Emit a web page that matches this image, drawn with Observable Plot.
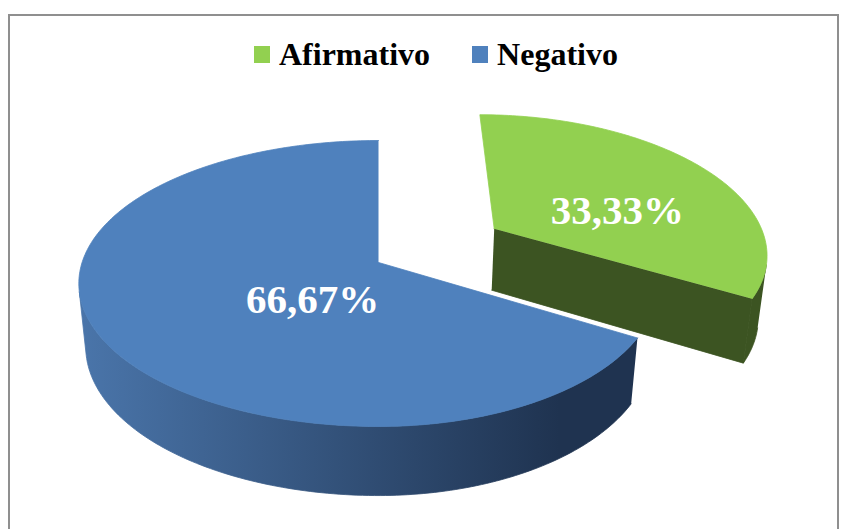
<!DOCTYPE html>
<html>
<head>
<meta charset="utf-8">
<script src="https://cdn.jsdelivr.net/npm/d3@7"></script>
<script src="https://cdn.jsdelivr.net/npm/@observablehq/plot@0.6"></script>
<style>
  html, body { margin: 0; padding: 0; background: #fff; overflow: hidden; }
  #wrap { position: relative; width: 841px; height: 529px; overflow: hidden; }
  #legend { position: relative; width: 841px; height: 85px;
    font-family: "Liberation Serif", "Times New Roman", serif; font-weight: bold; font-size: 32px; color: #000; }
  #legend .row { position: absolute; left: 254px; top: 38px; display: flex; align-items: center; line-height: 32px; white-space: nowrap; }
  #legend .item { display: flex; align-items: center; }
  #legend .sw { width: 16px; height: 17px; margin-right: 9px; }
  #frame { position: absolute; left: 8px; top: 14px; width: 831px; height: 700px;
    border: 2px solid #8f8f8f; box-sizing: border-box; pointer-events: none; }
</style>
</head>
<body>
<div id="wrap">
  <div id="legend"><div class="row"></div></div>
  <div id="chart"></div>
  <div id="frame"></div>
</div>
<script>
// ---- data ----
const categories = ["Afirmativo", "Negativo"];
const values = [33.33, 66.67];
const topColors = ["#92d050", "#4f81bd"];
const sideColors = ["#3c5422", "#1f3350"];
const exploded = ["Afirmativo"];
const labels = values.map(v => d3.format(".2f")(v).replace(".", ",") + "%");

// ---- view (3D pie projection) ----
const W = 841, H_SVG = 444, OFF = 85;
const SINP = 0.505, COSP = Math.sqrt(1 - SINP * SINP);
const DIST = 5.88, FOC = 1629, CX = 378, CY = 262, DEPTH = 0.269, LEFTK = 1.07, EXPL = 0.5;
const CAM = [0, -DIST * COSP, DIST * SINP];

function proj(x, y, z) {
  const zc = y * COSP - z * SINP + DIST;
  let X = FOC * x / zc;
  if (X < 0) X *= LEFTK;
  return {x: CX + X, y: CY - FOC * (y * SINP + z * COSP) / zc};
}

const TAU = 2 * Math.PI, total = d3.sum(values);
let acc = 0;
const slices = categories.map((name, i) => {
  const a0 = acc / total * TAU; acc += values[i]; const a1 = acc / total * TAU;
  const mid = (a0 + a1) / 2, e = exploded.includes(name) ? EXPL : 0;
  return {name, i, a0, a1, mid, ox: e * Math.sin(mid), oy: e * Math.cos(mid)};
});

function arcPts(s, z, from, to) {
  const n = Math.max(2, Math.ceil(Math.abs(to - from) / TAU * 360));
  return d3.range(n + 1).map(k => {
    const t = from + (to - from) * k / n;
    return proj(s.ox + Math.sin(t), s.oy + Math.cos(t), z);
  });
}
// visible (front-facing) part of the curved outer wall
function wallRange(s) {
  const n = 720, vis = [];
  for (let k = 0; k <= n; k++) {
    const t = s.a0 + (s.a1 - s.a0) * k / n;
    const px = s.ox + Math.sin(t), py = s.oy + Math.cos(t);
    const dot = Math.sin(t) * (CAM[0] - px) + Math.cos(t) * (CAM[1] - py);
    if (dot > 0) vis.push(t);
  }
  return vis.length ? [d3.min(vis), d3.max(vis)] : null;
}
function facesOf(s) {
  const c0 = proj(s.ox, s.oy, 0), c1 = proj(s.ox, s.oy, -DEPTH);
  const radial = a => [c0,
    proj(s.ox + Math.sin(a), s.oy + Math.cos(a), 0),
    proj(s.ox + Math.sin(a), s.oy + Math.cos(a), -DEPTH), c1];
  const n0y = Math.sin(s.a0);
  const n1y = -Math.sin(s.a1);
  const faces = [];
  if (-n0y > 1e-6) faces.push({kind: "radial0", pts: radial(s.a0)});
  if (-n1y > 1e-6) faces.push({kind: "radial1", pts: radial(s.a1)});
  const wr = wallRange(s);
  if (wr) faces.push({kind: "wall", pts: [...arcPts(s, 0, wr[0], wr[1]), ...arcPts(s, -DEPTH, wr[1], wr[0])]});
  faces.push({kind: "top", pts: [c0, ...arcPts(s, 0, s.a0, s.a1)]});
  return faces;
}

const WALL_MARK = "#1f3351"; // placeholder colour, replaced by a gradient below
const marks = [];
for (const s of slices) {
  for (const f of facesOf(s)) {
    let col = f.kind === "top" ? topColors[s.i] : sideColors[s.i];
    if (f.kind === "wall" && s.name === "Negativo") col = WALL_MARK;
    marks.push(Plot.line(f.pts, {x: "x", y: "y", fill: col, stroke: col, strokeWidth: 0.8,
      strokeLinejoin: "round"}));
  }
}

const labelData = slices.map(s => {
  const half = (s.a1 - s.a0) / 2;
  const r = 2 / 3 * Math.sin(half) / half;
  const p = proj(s.ox + r * Math.sin(s.mid), s.oy + r * Math.cos(s.mid), -0.27 * DEPTH);
  return {x: p.x, y: p.y, label: labels[s.i]};
});

const svg = Plot.plot({
  width: W, height: H_SVG, margin: 0,
  x: {domain: [0, W], range: [0, W], axis: null},
  y: {domain: [OFF, OFF + H_SVG], range: [0, H_SVG], axis: null},
  style: {background: "white"},
  marks: [
    ...marks,
    Plot.text(labelData, {x: "x", y: "y", text: "label", fill: "white", fontSize: 41, dx: 6,
      fontWeight: "bold", fontFamily: "'Liberation Serif', 'Times New Roman', serif"})
  ]
});

// gradient for the side wall of the large slice
const neg = slices.find(s => s.name === "Negativo");
const wallPts = facesOf(neg).find(f => f.kind === "wall").pts;
const gx1 = d3.min(wallPts, p => p.x), gx2 = d3.max(wallPts, p => p.x);
const ns = "http://www.w3.org/2000/svg";
const defs = document.createElementNS(ns, "defs");
const lg = document.createElementNS(ns, "linearGradient");
lg.setAttribute("id", "negSide");
lg.setAttribute("gradientUnits", "userSpaceOnUse");
lg.setAttribute("x1", gx1); lg.setAttribute("x2", gx2);
lg.setAttribute("y1", 0); lg.setAttribute("y2", 0);
[[0, "#4a75aa"], [0.86, "#1f3350"], [1, "#1f3350"]].forEach(([o, c]) => {
  const st = document.createElementNS(ns, "stop");
  st.setAttribute("offset", o); st.setAttribute("stop-color", c);
  lg.appendChild(st);
});
defs.appendChild(lg);
svg.insertBefore(defs, svg.firstChild);
svg.querySelectorAll("g").forEach(g => {
  if (g.getAttribute("fill") === WALL_MARK) {
    g.setAttribute("fill", "url(#negSide)");
    g.setAttribute("stroke", "url(#negSide)");
  }
});
document.getElementById("chart").appendChild(svg);

// legend
const row = d3.select("#legend .row");
categories.forEach((c, i) => {
  const it = row.append("div").attr("class", "item").style("margin-right", i < categories.length - 1 ? "42px" : "0");
  it.append("div").attr("class", "sw").style("background", topColors[i]);
  it.append("span").text(c);
});
</script>
</body>
</html>
